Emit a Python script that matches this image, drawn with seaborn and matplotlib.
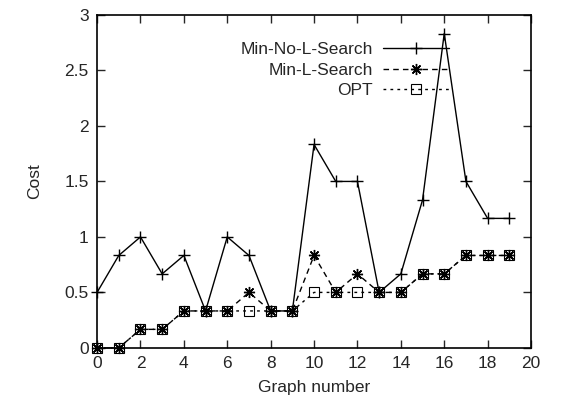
import numpy as np
import pandas as pd
import matplotlib
matplotlib.use("Agg")
import matplotlib.pyplot as plt
import seaborn as sns

# values
graph_no = list(range(20))
min_no_l_search = [0.5, 0.833, 1.0, 0.667, 0.833, 0.333, 1.0, 0.833, 0.333, 0.333,
                   1.833, 1.5, 1.5, 0.5, 0.667, 1.333, 2.833, 1.5, 1.167, 1.167]
min_l_search = [0, 0, 0.167, 0.167, 0.333, 0.333, 0.333, 0.5, 0.333, 0.333,
                0.833, 0.5, 0.667, 0.5, 0.5, 0.667, 0.667, 0.833, 0.833, 0.833]
opt = [0, 0, 0.167, 0.167, 0.333, 0.333, 0.333, 0.333, 0.333, 0.333,
       0.5, 0.5, 0.5, 0.5, 0.5, 0.667, 0.667, 0.833, 0.833, 0.833]
x_ticks = list(range(0, 21, 2))
y_ticks = [0, 0.5, 1, 1.5, 2, 2.5, 3]
y_tick_labels = ["0", "0.5", "1", "1.5", "2", "2.5", "3"]

sns.set_style("ticks")
plt.rcParams['font.family'] = ['Liberation Sans', 'DejaVu Sans']

fig = plt.figure(figsize=(5.71, 4.05), dpi=100)
ax = fig.add_axes([0.170, 0.141, 0.760, 0.822])

df = pd.DataFrame({"x": graph_no, "a": min_no_l_search, "b": min_l_search, "c": opt})

sns.lineplot(data=df, x="x", y="a", ax=ax, color="black", lw=1.0,
             marker="+", markersize=8, markeredgewidth=1.0,
             markeredgecolor="black", label="Min-No-L-Search", clip_on=False)
sns.lineplot(data=df, x="x", y="b", ax=ax, color="black", lw=1.0,
             marker=(8, 2, 0), markersize=8, markeredgewidth=1.0,
             markeredgecolor="black", label="Min-L-Search", clip_on=False)
sns.lineplot(data=df, x="x", y="c", ax=ax, color="black", lw=1.0,
             marker="s", markersize=7, markerfacecolor="none",
             markeredgecolor="black", markeredgewidth=0.8, label="OPT",
             clip_on=False)

# dash patterns like gnuplot
ax.lines[1].set_linestyle((0, (4, 3)))
ax.lines[2].set_linestyle((0, (2, 3)))

ax.set_xlim(0, 20)
ax.set_ylim(0, 3)
ax.set_xticks(x_ticks)
ax.set_yticks(y_ticks)
ax.set_yticklabels(y_tick_labels)
ax.set_xlabel("Graph number", fontsize=12.5, labelpad=6)
ax.set_ylabel("Cost", fontsize=12.5, labelpad=16)
ax.tick_params(direction="in", top=True, right=True, length=6, width=1,
               labelsize=12.5, pad=6)
for s in ax.spines.values():
    s.set_visible(True)
    s.set_linewidth(1.2)
    s.set_color("black")

leg = ax.legend(loc="upper right", bbox_to_anchor=(0.84, 0.955), frameon=False,
                markerfirst=False, fontsize=12.5, handlelength=3.8,
                labelspacing=0.3, handletextpad=0.6, borderpad=0.2)
for t in leg.get_texts():
    t.set_ha("right")

fig.savefig("out.png", dpi=100)
